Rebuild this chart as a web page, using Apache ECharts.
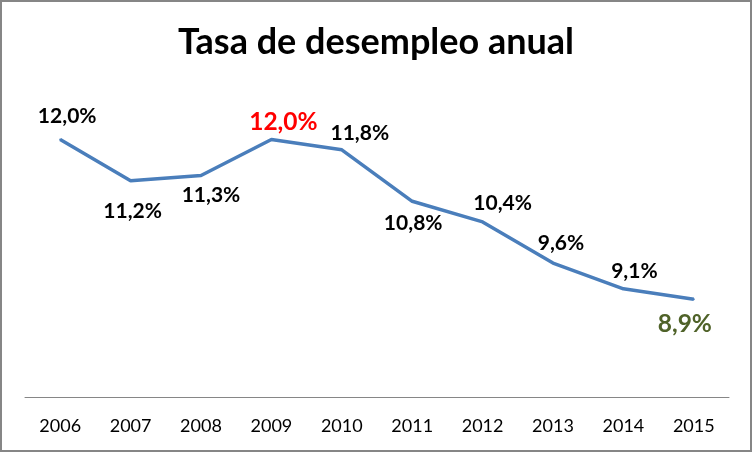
<!DOCTYPE html>
<html><head><meta charset="utf-8">
<script src="https://cdn.jsdelivr.net/npm/echarts@6/dist/echarts.min.js"></script>
<style>
html,body{margin:0;padding:0;background:#fff;}
#frame{position:absolute;left:0;top:0;width:748px;height:448px;border:2px solid #868686;}
#chart{position:absolute;left:0;top:0;width:752px;height:452px;}
</style></head>
<body>
<div id="chart"></div>
<div id="frame"></div>
<script>
const titleText = 'Tasa de desempleo anual';
const years = ['2006','2007','2008','2009','2010','2011','2012','2013','2014','2015'];
const rates = [12.0, 11.2, 11.3, 12.0, 11.8, 10.8, 10.4, 9.6, 9.1, 8.9];

// label placement (style only)
const labelPos = ['top','bottom','bottom','top','top','bottom','top','top','top','bottom'];
const labelDist = [12, 19, 8, 4, 5, 10, 7, 8, 6, 11];
const labelDx = [7, 2, 10, 12, 18, 1, 20, 8, 11, -9];

const fontFam = 'Lato, "Open Sans", sans-serif';
const seriesData = rates.map((v, i) => {
  const special = i === 3 ? '#ff0000' : (i === 9 ? '#4f6228' : null);
  return {
    value: v,
    label: {
      show: true,
      position: labelPos[i],
      distance: labelDist[i],
      offset: [labelDx[i], 0],
      color: special || '#000',
      fontSize: special ? 24.5 : 21,
      fontWeight: 'bold',
      fontFamily: fontFam
    }
  };
});

const chart = echarts.init(document.getElementById('chart'));
chart.setOption({
  animation: false,
  backgroundColor: '#fff',
  title: {
    text: titleText, left: 'center', top: 19,
    textStyle: { fontFamily: fontFam, fontWeight: 'bold', fontSize: 36, color: '#000' }
  },
  grid: { left: 25, right: 23, top: 88, bottom: 55 },
  xAxis: {
    type: 'category', data: years, boundaryGap: true,
    axisLine: { lineStyle: { color: '#868686', width: 1 } },
    axisTick: { show: false },
    axisLabel: { color: '#000', fontSize: 18, fontFamily: fontFam, margin: 20 }
  },
  yAxis: {
    type: 'value', min: 7, max: 13, show: false,
    splitLine: { show: false }
  },
  series: [{
    type: 'line', data: seriesData, symbol: 'circle', symbolSize: 2, showSymbol: true,
    itemStyle: { color: '#4a7ebb' },
    lineStyle: { color: '#4a7ebb', width: 3.5 },
    label: {
      show: true, fontFamily: fontFam, fontWeight: 'bold',
      formatter: function (p) { return Number(p.value).toFixed(1).replace('.', ',') + '%'; }
    }
  }]
});
</script>
</body></html>
